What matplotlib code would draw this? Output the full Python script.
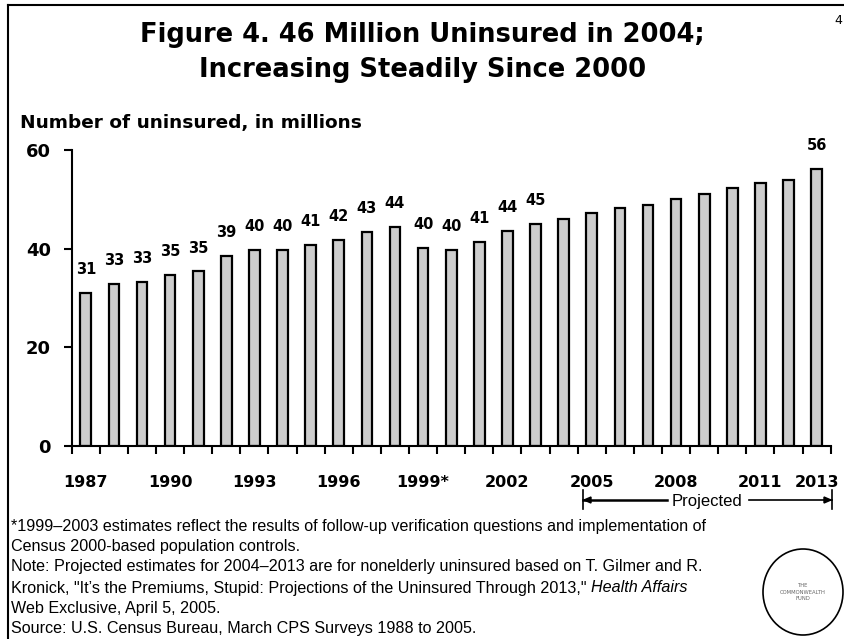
import numpy as np
import matplotlib
matplotlib.use("Agg")
import matplotlib.pyplot as plt
from matplotlib.lines import Line2D
from matplotlib.patches import Ellipse, FancyArrow

# Données (millions de non-assurés)
years = list(range(1987, 2014))
values = [31.1, 32.9, 33.3, 34.7, 35.4, 38.6, 39.7, 39.7, 40.7, 41.8, 43.4, 44.4,
          40.1, 39.7, 41.4, 43.6, 45.0, 46.1, 47.2, 48.3, 48.9, 50.0, 51.1, 52.2,
          53.3, 54.0, 56.1]
bar_labels = ["31", "33", "33", "35", "35", "39", "40", "40", "41", "42", "43", "44",
              "40", "40", "41", "44", "45", "", "", "", "", "", "", "", "", "", "56"]
year_ticks = ["1987", "1990", "1993", "1996", "1999*", "2002", "2005", "2008", "2011", "2013"]
yticks = [0, 20, 40, 60]

W, H = 845, 639
fig = plt.figure(figsize=(W / 100, H / 100), dpi=100)
fig.patch.set_facecolor("white")

# axe principal, positions en pixels
x0, x1 = 71.7, 830.7
y_top, y_bot = 150, 446
ax = fig.add_axes([x0 / W, 1 - y_bot / H, (x1 - x0) / W, (y_bot - y_top) / H])

x = np.arange(len(years))
ax.bar(x, values, width=0.38, color="#cdcdcd", edgecolor="black", linewidth=1.6)

for i, lab in enumerate(bar_labels):
    if lab:
        ax.annotate(lab, (x[i], values[i]), xytext=(0, 13.5), textcoords="offset points",
                    ha="center", va="baseline", fontsize=10.5, fontweight="bold")

ax.set_xlim(-0.5, len(years) - 0.5)
ax.set_ylim(0, 60)
for s in ["top", "right"]:
    ax.spines[s].set_visible(False)
for s in ["left", "bottom"]:
    ax.spines[s].set_linewidth(1.5)

ax.set_yticks(yticks)
ax.set_yticklabels([str(v) for v in yticks], fontsize=13, fontweight="bold")
ax.tick_params(axis="y", direction="out", length=6, width=1.5, pad=9)

# graduations aux limites des catégories
ax.set_xticks(np.arange(-0.5, len(years), 1.0))
ax.set_xticklabels([])
ax.tick_params(axis="x", which="major", direction="out", length=6, width=1.5)
tick_idx = [years.index(int(t.rstrip("*"))) for t in year_ticks]
ax.set_xticks(tick_idx, minor=True)
ax.set_xticklabels(year_ticks, minor=True, fontsize=11.5, fontweight="bold")
ax.tick_params(axis="x", which="minor", length=0, pad=21)

# titres
fig.text(0.5, 1 - 35 / H, "Figure 4. 46 Million Uninsured in 2004;", ha="center", va="center",
         fontsize=18.5, fontweight="bold")
fig.text(0.5, 1 - 70 / H, "Increasing Steadily Since 2000", ha="center", va="center",
         fontsize=18.5, fontweight="bold")
fig.text(20 / W, 1 - 123 / H, "Number of uninsured, in millions", ha="left", va="center",
         fontsize=13.3, fontweight="bold")
fig.text(838 / W, 1 - 20 / H, "4", ha="center", va="center", fontsize=9)

# cadre
fig.add_artist(Line2D([8 / W, 1], [1 - 5 / H, 1 - 5 / H], color="black", lw=1.5))
fig.add_artist(Line2D([8 / W, 8 / W], [0, 1 - 5 / H], color="black", lw=1.5))

# projection
ya = 1 - 500 / H
xl, xr = 583 / W, 832 / W
fig.add_artist(Line2D([xl, xl], [1 - 490 / H, 1 - 509 / H], color="black", lw=1.2))
fig.add_artist(Line2D([xr, xr], [1 - 490 / H, 1 - 509 / H], color="black", lw=1.2))
fig.text(707 / W, ya - 1.5 / H, "Projected", ha="center", va="center", fontsize=12,
         family="Liberation Sans")
fig.add_artist(Line2D([xl, 667 / W], [ya, ya], color="black", lw=1.8))
fig.add_artist(Line2D([749 / W, xr], [ya, ya], color="black", lw=1.2))
for xs, dx in [(xl + 8 / W, -7 / W), (xr - 8 / W, 7 / W)]:
    fig.add_artist(FancyArrow(xs, ya, dx, 0, width=0, head_width=6 / H, head_length=7 / W,
                              length_includes_head=True, color="black",
                              transform=fig.transFigure))

# notes
notes = [
    "*1999\u20132003 estimates reflect the results of follow-up verification questions and implementation of",
    "Census 2000-based population controls.",
    "Note: Projected estimates for 2004\u20132013 are for nonelderly uninsured based on T. Gilmer and R.",
    None,
    "Web Exclusive, April 5, 2005.",
    "Source: U.S. Census Bureau, March CPS Surveys 1988 to 2005.",
]
line_y = [526, 547, 567, 588, 609, 629]
fs_note = 11.6
for txt, yy in zip(notes, line_y):
    if txt:
        fig.text(11 / W, 1 - yy / H, txt, ha="left", va="center", fontsize=fs_note,
                 family="Liberation Sans")
t = fig.text(11 / W, 1 - 588 / H,
             "Kronick, \"It\u2019s the Premiums, Stupid: Projections of the Uninsured Through 2013,\" ",
             ha="left", va="center", fontsize=fs_note, family="Liberation Sans")
fig.canvas.draw()
bb = t.get_window_extent()
fig.text(bb.x1 / W, 1 - 588 / H, "Health Affairs", ha="left", va="center", fontsize=fs_note,
         family="Liberation Sans", style="italic")

# logo
fig.add_artist(Ellipse((803 / W, 1 - 592 / H), 80 / W, 86 / H, transform=fig.transFigure,
                       fill=False, edgecolor="black", lw=1.2))
fig.text(803 / W, 1 - 592 / H, "THE\nCOMMONWEALTH\nFUND", ha="center", va="center",
         fontsize=3.8, color="#666666", linespacing=1.3)

fig.savefig("out.png", dpi=100)
